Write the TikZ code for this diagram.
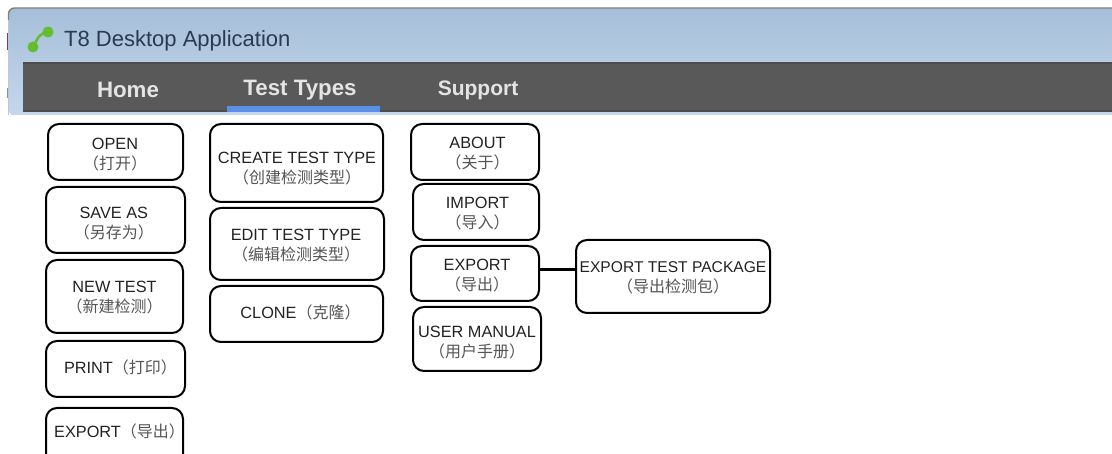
\documentclass[tikz,border=0pt]{standalone}
\usepackage{fontspec}
\setmainfont{Liberation Sans}
\newfontfamily\cjk{Noto Sans CJK SC}
\definecolor{barblue}{HTML}{5B8FE8}
\definecolor{bardark}{HTML}{595959}
\definecolor{tabtxt}{HTML}{E4E4E4}
\definecolor{boxtxt}{HTML}{222222}
\definecolor{cjktxt}{HTML}{555555}
\definecolor{iconG}{HTML}{62BE2E}
\definecolor{titletop}{HTML}{A6BED8}
\definecolor{titlebot}{HTML}{C4D8EE}
\definecolor{titletxt}{HTML}{2A3A50}
\definecolor{edgepurple}{HTML}{7A3A62}
\definecolor{edgeblue}{HTML}{5FA0C8}
\tikzset{
  menubox/.style={draw=black,line width=2pt,rounded corners=11pt,fill=white,inner sep=0pt,text=boxtxt},
  tab/.style={font=\fontsize{22.3}{24}\selectfont\bfseries,text=tabtxt,inner sep=0pt},
  link/.style={draw=black,line width=2.2pt}
}
% name, x1, y1, x2, y2, dx, dy, contents
\newcommand{\menubox}[8]{%
  \node[menubox,minimum width=#4pt-#2pt,minimum height=#5pt-#3pt] (#1) at ({(#2+#4)/2},{(#3+#5)/2})
  {\makebox[0pt]{\hspace*{#6pt}\hspace*{#6pt}\raisebox{#7pt}[0pt][0pt]{#8}}};}
\newcommand{\twolines}[3][16.3]{\begin{tabular}[c]{@{}c@{}}\fontsize{#1}{18}\selectfont #2\\[2.5pt]\fontsize{16}{18}\selectfont\cjk\color{cjktxt} #3\end{tabular}}
\newcommand{\oneline}[2]{\fontsize{16.3}{20}\selectfont #1{\fontsize{16}{20}\selectfont\cjk\color{cjktxt} #2}}
\begin{document}
\begin{tikzpicture}[x=1pt,y=-1pt]
\useasboundingbox (0,0) rectangle (1112,454);
\clip (0,0) rectangle (1112,454);
\fill[white] (0,0) rectangle (1112,454);
% window frame and title bar
\path[top color=titletop,bottom color=titlebot,rounded corners=6pt]
  (9,116) -- (9,8) -- (1120,8) -- (1120,116) -- cycle;
\draw[color=gray!45,line width=1.2pt] (8.5,116) -- (8.5,16);
\draw[color=gray,line width=1.4pt,rounded corners=6pt] (8.5,20) -- (8.5,8) -- (1120,8);
\fill[edgepurple] (6.5,33) rectangle (8,50);
\fill[edgeblue] (6.5,88) rectangle (8,98);
\fill[white] (0,115) rectangle (1112,124);
\fill[bardark] (23,62) rectangle (1112,112);
\fill[black!70] (23,62) rectangle (1112,64);
\fill[black!70] (23,110) rectangle (1112,112);
\fill[barblue] (227,106) rectangle (380,112);
% icon
\draw[iconG,line width=2.5pt] (34,46) .. controls (38,36) and (41,33) .. (48,32);
\fill[iconG] (33,47) circle (5.5);
\fill[iconG] (48,32) circle (5.5);
% header text
\node[inner sep=0pt,anchor=west,text=titletxt,font=\fontsize{22}{24}\selectfont] (title) at (64,41) {T8 Desktop Application};
\node[tab] (home) at (128,90) {Home};
\node[tab] (types) at (300,90) {Test Types};
\node[tab,font=\fontsize{21}{24}\selectfont\bfseries] (support) at (478,90) {Support};
% first column
\menubox{open}{48}{124}{183}{180}{-0.5}{-6.5}{\twolines{OPEN}{（打开）}}
\menubox{saveas}{46}{187}{185}{253}{-1.7}{-7.5}{\twolines{SAVE AS}{（另存为）}}
\menubox{newtest}{46}{260}{183}{333}{0}{-4.5}{\twolines{NEW TEST}{（新建检测）}}
\menubox{print}{46}{341}{185}{397}{5}{-4.5}{\oneline{PRINT}{（打印）}}
\menubox{exportA}{46}{408}{183}{470}{5}{1.5}{\oneline{EXPORT}{（导出）}}
% second column
\menubox{create}{210}{124}{383}{202}{0.5}{-9.5}{\twolines{CREATE TEST TYPE}{（创建检测类型）}}
\menubox{edit}{210}{208}{384}{280}{-1}{-5}{\twolines{EDIT TEST TYPE}{（编辑检测类型）}}
\menubox{clone}{210}{286}{383}{342}{4}{-4.5}{\oneline{CLONE}{（克隆）}}
% third column
\menubox{about}{411}{124}{539}{180}{2.5}{-5.5}{\twolines{ABOUT}{（关于）}}
\menubox{import}{413}{184}{539}{240}{1.5}{-5.5}{\twolines{IMPORT}{（导入）}}
\menubox{exportB}{411}{246}{539}{301}{2}{-6}{\twolines{EXPORT}{（导出）}}
\menubox{manual}{413}{307}{541}{371}{0}{-7.5}{\twolines{USER MANUAL}{（用户手册）}}
\menubox{package}{576}{240}{770}{313}{0}{-4.5}{\twolines[15.6]{EXPORT TEST PACKAGE}{（导出检测包）}}
\draw[link] ([yshift=4pt]exportB.east) -- ([yshift=4pt]exportB.east -| package.west);
\end{tikzpicture}
\end{document}
